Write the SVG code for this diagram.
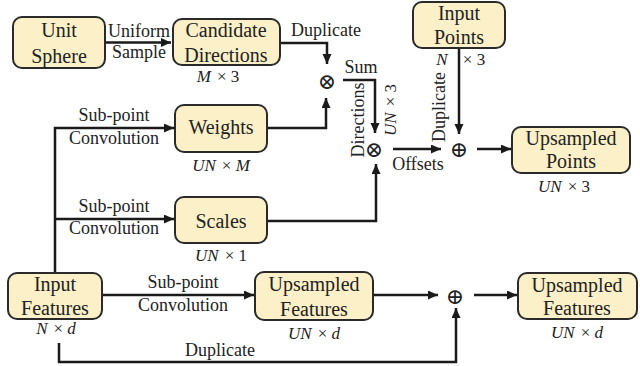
<svg xmlns="http://www.w3.org/2000/svg" width="640" height="366" viewBox="0 0 640 366">
<style>
.box{fill:#fcf0c8;stroke:#2a2a2a;stroke-width:2}
.ln{fill:none;stroke:#1a1a1a;stroke-width:2.5}
.bt{font-family:'Liberation Serif',serif;font-size:20px;fill:#222;text-anchor:middle}
.lb{font-family:'Liberation Serif',serif;font-size:18px;fill:#222;text-anchor:middle}
.mt{font-family:'Liberation Serif',serif;font-size:17px;fill:#222;text-anchor:middle}
.it{font-style:italic}
.op{font-family:'DejaVu Serif',serif;font-size:22px;fill:#222;text-anchor:middle;dominant-baseline:central}
</style>
<defs>
<marker id="ah" markerUnits="userSpaceOnUse" markerWidth="12" markerHeight="10" refX="10" refY="4.5" orient="auto">
<path d="M0,0 L10,4.5 L0,9 Z" fill="#1a1a1a"/>
</marker>
</defs>
<g id="connectors">
<path class="ln" d="M105,42.5 H171" marker-end="url(#ah)"/>
<path class="ln" d="M280,43 H327 V64" marker-end="url(#ah)"/>
<path class="ln" d="M267,128 H326 V98" marker-end="url(#ah)"/>
<path class="ln" d="M343,80 H375 V133" marker-end="url(#ah)"/>
<path class="ln" d="M267,221 H376 V164" marker-end="url(#ah)"/>
<path class="ln" d="M393,149 H441" marker-end="url(#ah)"/>
<path class="ln" d="M459,48 V134" marker-end="url(#ah)"/>
<path class="ln" d="M477,149 H511" marker-end="url(#ah)"/>
<path class="ln" d="M55,273 V128 H174" marker-end="url(#ah)"/>
<path class="ln" d="M55,219 H174" marker-end="url(#ah)"/>
<path class="ln" d="M102,295 H254" marker-end="url(#ah)"/>
<path class="ln" d="M373,295 H438" marker-end="url(#ah)"/>
<path class="ln" d="M474,295 H517" marker-end="url(#ah)"/>
<path class="ln" d="M59,343 V362 H456 V308" marker-end="url(#ah)"/>
<text class="lb" x="139" y="37">Uniform</text>
<text class="lb" x="139" y="58">Sample</text>
<text class="lb" x="326" y="36">Duplicate</text>
<text class="lb" x="361" y="73">Sum</text>
<text class="lb" transform="translate(364,120) rotate(-90)">Directions</text>
<text class="mt" transform="translate(396,110) rotate(-90)"><tspan class="it">UN</tspan><tspan dx="6">× 3</tspan></text>
<text class="lb" transform="translate(445,107) rotate(-90)">Duplicate</text>
<text class="lb" x="418" y="170">Offsets</text>
<text class="lb" x="114" y="121">Sub-point</text>
<text class="lb" x="114" y="144">Convolution</text>
<text class="lb" x="114" y="212">Sub-point</text>
<text class="lb" x="114" y="234">Convolution</text>
<text class="lb" x="183" y="288">Sub-point</text>
<text class="lb" x="183" y="311">Convolution</text>
<text class="lb" x="220" y="356">Duplicate</text>
</g>
<g id="unit-sphere">
<rect class="box" x="13" y="17" width="92" height="51" rx="9"/>
<text class="bt" x="59" y="37">Unit</text>
<text class="bt" x="59" y="63">Sphere</text>
</g>
<g id="candidate-directions">
<rect class="box" x="173" y="19" width="107" height="46" rx="9"/>
<text class="bt" x="226" y="37">Candidate</text>
<text class="bt" x="226" y="62">Directions</text>
<text class="mt" x="218" y="82"><tspan class="it">M</tspan><tspan dx="6">× 3</tspan></text>
</g>
<g id="mul1"><text class="op" x="327" y="81">⊗</text></g>
<g id="mul2"><text class="op" x="374" y="149">⊗</text></g>
<g id="add1"><text class="op" x="459" y="149">⊕</text></g>
<g id="add2"><text class="op" x="455" y="296">⊕</text></g>
<g id="input-points">
<rect class="box" x="413" y="2" width="92" height="46" rx="9"/>
<text class="bt" x="459" y="20">Input</text>
<text class="bt" x="459" y="44">Points</text>
<text class="mt" y="65"><tspan class="it" x="442">N</tspan><tspan x="474">× 3</tspan></text>
</g>
<g id="upsampled-points">
<rect class="box" x="512" y="127" width="118" height="46" rx="9"/>
<text class="bt" x="571" y="145">Upsampled</text>
<text class="bt" x="571" y="168">Points</text>
<text class="mt" x="564" y="192"><tspan class="it">UN</tspan><tspan dx="6">× 3</tspan></text>
</g>
<g id="weights">
<rect class="box" x="175" y="105" width="92" height="47" rx="9"/>
<text class="bt" x="221" y="134">Weights</text>
<text class="mt" x="221" y="171"><tspan class="it">UN</tspan><tspan dx="6">× </tspan><tspan class="it">M</tspan></text>
</g>
<g id="scales">
<rect class="box" x="175" y="197" width="92" height="46" rx="9"/>
<text class="bt" x="221" y="228">Scales</text>
<text class="mt" x="221" y="261"><tspan class="it">UN</tspan><tspan dx="6">× 1</tspan></text>
</g>
<g id="input-features">
<rect class="box" x="8" y="273" width="94" height="46" rx="9"/>
<text class="bt" x="55" y="291">Input</text>
<text class="bt" x="55" y="315">Features</text>
<text class="mt" x="56" y="334"><tspan class="it">N</tspan><tspan dx="6">× </tspan><tspan class="it">d</tspan></text>
</g>
<g id="upsampled-features-mid">
<rect class="box" x="255" y="272" width="118" height="48" rx="9"/>
<text class="bt" x="314" y="291">Upsampled</text>
<text class="bt" x="314" y="316">Features</text>
<text class="mt" x="314" y="339"><tspan class="it">UN</tspan><tspan dx="6">× </tspan><tspan class="it">d</tspan></text>
</g>
<g id="upsampled-features-out">
<rect class="box" x="518" y="273" width="119" height="46" rx="9"/>
<text class="bt" x="577" y="292">Upsampled</text>
<text class="bt" x="577" y="315">Features</text>
<text class="mt" x="577" y="338"><tspan class="it">UN</tspan><tspan dx="6">× </tspan><tspan class="it">d</tspan></text>
</g>
</svg>
